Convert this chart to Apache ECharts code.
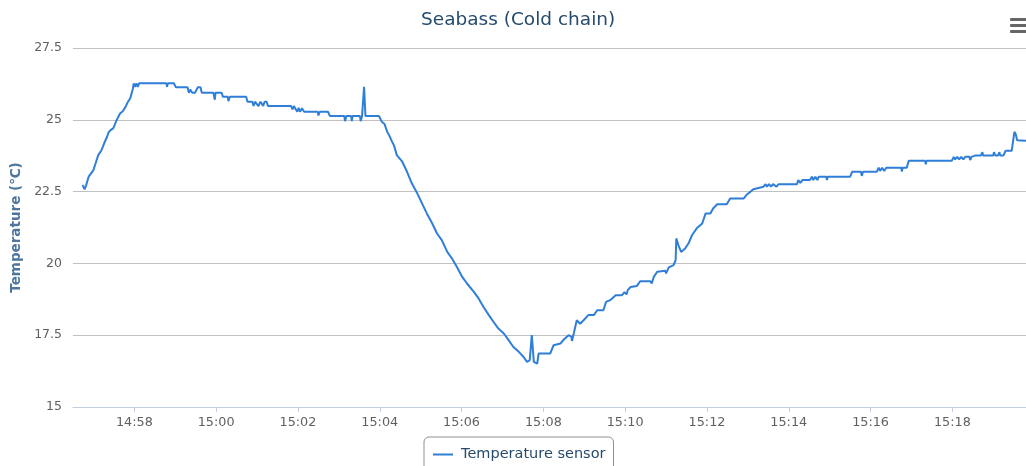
<!DOCTYPE html>
<html><head><meta charset="utf-8">
<script src="https://cdn.jsdelivr.net/npm/echarts@6/dist/echarts.min.js"></script>
<style>html,body{margin:0;padding:0;background:#fff}#c{width:1026px;height:466px}</style>
</head><body><div id="c"></div>
<script>
const chartTitle = 'Seabass (Cold chain)';
const seriesName = 'Temperature sensor';
const yAxisTitle = 'Temperature (℃)';
const xMin = '14:56:30';
const xMax = '15:19:48';
const yTicks = [15, 17.5, 20, 22.5, 25, 27.5];

const times = [
'14:56:44','14:56:47','14:56:49','14:56:53','14:57:00','14:57:04','14:57:07','14:57:12','14:57:16','14:57:20',
'14:57:22','14:57:25','14:57:29','14:57:34','14:57:39','14:57:43','14:57:47','14:57:50','14:57:54','14:57:58',
'14:57:59','14:58:01','14:58:03','14:58:05','14:58:07','14:58:47','14:58:48','14:58:49','14:58:58','14:59:01',
'14:59:18','14:59:20','14:59:22','14:59:25','14:59:29','14:59:33','14:59:37','14:59:39','14:59:56','14:59:58',
'14:59:59','15:00:08','15:00:10','15:00:17','15:00:18','15:00:20','15:00:44','15:00:46','15:00:53','15:00:55',
'15:00:57','15:01:02','15:01:05','15:01:09','15:01:11','15:01:14','15:01:16','15:01:50','15:01:52','15:01:54',
'15:01:57','15:01:59','15:02:01','15:02:03','15:02:06','15:02:09','15:02:29','15:02:30','15:02:32','15:02:44',
'15:02:47','15:03:08','15:03:09','15:03:11','15:03:18','15:03:19','15:03:20','15:03:31','15:03:32','15:03:34',
'15:03:36','15:03:37','15:03:39','15:03:59','15:04:03','15:04:07','15:04:11','15:04:14','15:04:18','15:04:21',
'15:04:25','15:04:33','15:04:40','15:04:47','15:04:55','15:05:02','15:05:09','15:05:17','15:05:24','15:05:31',
'15:05:39','15:05:46','15:05:53','15:06:01','15:06:08','15:06:18','15:06:25','15:06:32','15:06:40','15:06:47',
'15:06:54','15:07:02','15:07:09','15:07:16','15:07:24','15:07:31','15:07:36','15:07:40','15:07:42','15:07:43',
'15:07:46','15:07:51','15:07:53','15:08:10','15:08:15','15:08:25','15:08:30','15:08:37','15:08:41','15:08:42',
'15:08:45','15:08:49','15:08:54','15:08:59','15:09:06','15:09:14','15:09:19','15:09:28','15:09:32','15:09:38',
'15:09:46','15:09:55','15:09:59','15:10:02','15:10:04','15:10:08','15:10:17','15:10:22','15:10:37','15:10:39',
'15:10:42','15:10:47','15:10:59','15:11:00','15:11:04','15:11:11','15:11:14','15:11:15','15:11:18','15:11:22',
'15:11:28','15:11:33','15:11:38','15:11:45','15:11:53','15:11:58','15:12:05','15:12:09','15:12:15','15:12:29',
'15:12:34','15:12:54','15:12:59','15:13:04','15:13:08','15:13:23','15:13:26','15:13:28','15:13:31','15:13:34',
'15:13:37','15:13:42','15:13:45','15:14:12','15:14:14','15:14:17','15:14:20','15:14:31','15:14:34','15:14:36',
'15:14:39','15:14:42','15:14:44','15:14:55','15:14:56','15:14:57','15:15:30','15:15:33','15:15:35','15:15:37',
'15:15:46','15:15:47','15:15:49','15:16:09','15:16:12','15:16:14','15:16:17','15:16:20','15:16:23','15:16:45',
'15:16:46','15:16:47','15:16:53','15:16:56','15:17:20','15:17:21','15:17:22','15:17:59','15:18:02','15:18:04',
'15:18:07','15:18:10','15:18:13','15:18:16','15:18:19','15:18:25','15:18:26','15:18:28','15:18:34','15:18:42',
'15:18:44','15:18:45','15:19:00','15:19:01','15:19:03','15:19:07','15:19:09','15:19:10','15:19:15','15:19:18',
'15:19:27','15:19:31','15:19:33','15:19:35','15:19:48'
];

const temps = [
22.73,22.58,22.70,23.02,23.25,23.55,23.77,23.95,24.20,24.41,
24.55,24.64,24.70,24.99,25.22,25.30,25.45,25.60,25.75,26.10,
26.27,26.15,26.27,26.15,26.27,26.27,26.15,26.27,26.27,26.13,
26.13,25.94,26.05,25.94,25.94,26.13,26.13,25.94,25.94,25.70,
25.94,25.94,25.80,25.80,25.65,25.80,25.80,25.63,25.63,25.48,
25.63,25.48,25.63,25.48,25.63,25.63,25.48,25.48,25.36,25.48,
25.36,25.28,25.42,25.28,25.40,25.28,25.28,25.15,25.28,25.28,
25.13,25.13,24.95,25.13,25.13,24.95,25.13,25.13,24.95,25.13,
25.13,26.15,25.13,25.13,24.93,24.85,24.58,24.45,24.24,24.10,
23.77,23.54,23.19,22.79,22.44,22.09,21.74,21.39,21.04,20.81,
20.40,20.17,19.88,19.53,19.30,19.01,18.78,18.49,18.20,17.96,
17.73,17.56,17.33,17.09,16.92,16.74,16.57,16.63,16.57,17.50,
16.57,16.51,16.86,16.86,17.15,17.21,17.35,17.50,17.45,17.30,
17.60,18.02,17.90,18.02,18.20,18.20,18.37,18.37,18.66,18.72,
18.89,18.89,19.00,18.92,19.08,19.18,19.21,19.38,19.38,19.30,
19.53,19.71,19.74,19.65,19.86,19.94,20.11,20.87,20.64,20.40,
20.52,20.70,20.98,21.22,21.39,21.74,21.74,21.91,22.06,22.06,
22.26,22.26,22.41,22.50,22.58,22.67,22.76,22.67,22.76,22.67,
22.76,22.67,22.76,22.76,22.90,22.80,22.90,22.90,23.02,22.90,
23.02,22.90,23.02,23.02,22.90,23.02,23.02,23.19,23.25,23.19,
23.19,23.05,23.19,23.19,23.33,23.22,23.33,23.22,23.33,23.33,
23.20,23.33,23.33,23.57,23.57,23.45,23.57,23.57,23.71,23.62,
23.71,23.62,23.71,23.62,23.71,23.71,23.60,23.71,23.76,23.76,
23.87,23.76,23.76,23.87,23.76,23.76,23.87,23.76,23.76,23.92,
23.92,24.58,24.50,24.29,24.27
];

function ts(s) {
  const p = s.split(':').map(Number);
  return new Date(2020, 0, 1, p[0], p[1], p[2]).getTime();
}
function pad(n) { return (n < 10 ? '0' : '') + n; }

const FONT = '"DejaVu Sans", Verdana, sans-serif';
const seriesData = times.map((t, i) => [ts(t), temps[i]]);

const chart = echarts.init(document.getElementById('c'), null, { renderer: 'canvas' });
chart.setOption({
  animation: false,
  backgroundColor: '#ffffff',
  title: {
    text: chartTitle,
    left: 421,
    top: 11,
    padding: 0,
    textStyle: { fontFamily: FONT, fontSize: 18.5, fontWeight: 'normal', color: '#274b6d' }
  },
  grid: { left: 73, right: 0, top: 48, bottom: 59, containLabel: false },
  legend: {
    data: [{ name: seriesName }],
    left: 424,
    top: 437,
    padding: [10, 8, 10, 8],
    itemWidth: 20,
    itemHeight: 14,
    itemGap: 8,
    borderColor: '#909090',
    borderWidth: 1,
    borderRadius: 5,
    itemStyle: { opacity: 0 },
    lineStyle: { color: '#2f7ed8', width: 2 },
    textStyle: { fontFamily: FONT, fontSize: 14.5, color: '#274b6d', padding: [0, 0, 0, 3] }
  },
  xAxis: {
    type: 'time',
    min: ts(xMin),
    max: ts(xMax),
    splitNumber: 9,
    minInterval: 150000,
    maxInterval: 150000,
    axisLine: { show: true, lineStyle: { color: '#C0D0E0', width: 1 } },
    axisTick: { show: true, length: 5, lineStyle: { color: '#C0D0E0' } },
    splitLine: { show: false },
    axisLabel: {
      showMinLabel: false,
      showMaxLabel: false,
      margin: 9,
      fontFamily: FONT,
      fontSize: 12.8,
      color: '#606060',
      formatter: function (v) {
        const d = new Date(v);
        return pad(d.getHours()) + ':' + pad(d.getMinutes());
      }
    }
  },
  yAxis: {
    type: 'value',
    min: yTicks[0],
    max: yTicks[yTicks.length - 1],
    interval: 2.5,
    name: yAxisTitle,
    nameLocation: 'middle',
    nameRotate: 90,
    nameGap: 50,
    nameTextStyle: { fontFamily: FONT, fontSize: 13.5, fontWeight: 'bold', color: '#4d759e' },
    axisLine: { show: false },
    axisTick: { show: false },
    splitLine: { show: true, lineStyle: { color: '#C0C0C0', width: 1 } },
    axisLabel: { margin: 11, fontFamily: FONT, fontSize: 12.5, color: '#606060' }
  },
  series: [{
    name: seriesName,
    type: 'line',
    data: seriesData,
    symbol: 'none',
    showSymbol: false,
    color: '#2f7ed8',
    lineStyle: { color: '#2f7ed8', width: 2 }
  }],
  graphic: [
    { type: 'rect', shape: { x: 1010, y: 18, width: 20, height: 3, r: 1 }, style: { fill: '#666666' } },
    { type: 'rect', shape: { x: 1010, y: 24, width: 20, height: 3, r: 1 }, style: { fill: '#666666' } },
    { type: 'rect', shape: { x: 1010, y: 30, width: 20, height: 3, r: 1 }, style: { fill: '#666666' } }
  ]
});
</script>
</body></html>
